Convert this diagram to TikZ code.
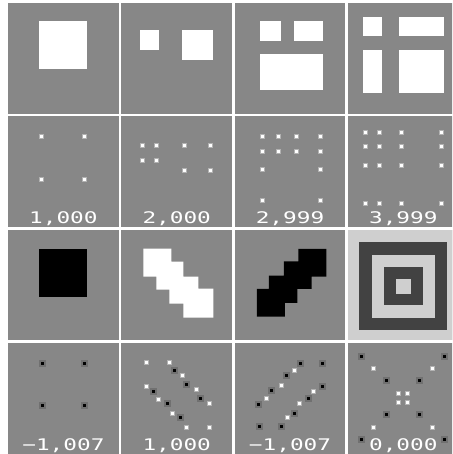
\documentclass[tikz,border=0pt]{standalone}
\usepackage{fontspec}
\newfontfamily\pixfont{DejaVu Sans Mono}
\definecolor{tilegray}{RGB}{135,135,135}
\definecolor{ringlight}{RGB}{207,207,207}
\definecolor{ringdark}{RGB}{66,66,66}
\definecolor{halodark}{RGB}{112,112,112}
\definecolor{halolight}{RGB}{178,178,178}
\tikzset{score/.style={text=white, font=\pixfont\fontsize{16}{16}\selectfont, anchor=base, inner sep=0pt}}
\newcommand{\wide}[1]{\scalebox{1.42}[1]{#1}}
% corner responses
\newcommand{\darkdots}[1]{\foreach \x/\y in {#1} {
    \fill[halodark] (\x-3.5,\y-3.5) rectangle (\x+3.5,\y+3.5);
    \fill[black] (\x-1.5,\y-1.5) rectangle (\x+1.5,\y+1.5);
  }}
\newcommand{\lightdots}[1]{\foreach \x/\y in {#1} {
    \fill[halolight] (\x-2.5,\y-2.5) rectangle (\x+2.5,\y+2.5);
    \fill[white] (\x-1.5,\y-1.5) rectangle (\x+1.5,\y+1.5);
  }}
\begin{document}
\begin{tikzpicture}[x=1pt, y=-1pt]
  \useasboundingbox (0,0) rectangle (452,454);
  \fill[white] (0,0) rectangle (452,454);
  \clip (0,0) rectangle (452,454);
  % Tiles
  \foreach \c in {0,...,3} {
    \foreach \r in {0,...,3} {
      \fill[tilegray] ({8+113.3*\c},{3+113.3*\r}) rectangle +(110.8,110.8);
    }
  }
  % Row 1 - white shapes
  \begin{scope}[shift={(8,3)}]
    \fill[white] (31,18) rectangle (79,66);
  \end{scope}
  \begin{scope}[shift={(121.3,3)}]
    \fill[white] (19,27) rectangle (38,47);
    \fill[white] (61,27) rectangle (92,57);
  \end{scope}
  \begin{scope}[shift={(234.6,3)}]
    \fill[white] (25,18) rectangle (46,38);
    \fill[white] (59,18) rectangle (88,38);
    \fill[white] (25,51) rectangle (88,87);
  \end{scope}
  \begin{scope}[shift={(347.9,3)}]
    \fill[white] (15,14) rectangle (34,33);
    \fill[white] (51,14) rectangle (96,33);
    \fill[white] (15,47) rectangle (34,90);
    \fill[white] (51,47) rectangle (96,90);
  \end{scope}
  % Row 2 - corners and counts
  \begin{scope}[shift={(8,116.3)}]
    \lightdots{33.5/20.5, 76.5/20.5, 33.5/63.5, 76.5/63.5}
    \node[score] (s21) at (55.4,107.5) {\wide{1,000}};
  \end{scope}
  \begin{scope}[shift={(121.3,116.3)}]
    \lightdots{21.5/29.5, 35.5/29.5, 21.5/44.5, 35.5/44.5,
      63.5/29.5, 89.5/29.5, 63.5/54.5, 89.5/54.5}
    \node[score] (s22) at (55.4,107.5) {\wide{2,000}};
  \end{scope}
  \begin{scope}[shift={(234.6,116.3)}]
    \lightdots{27.5/20.5, 43.5/20.5, 27.5/35.5, 43.5/35.5,
      61.5/20.5, 85.5/20.5, 61.5/35.5, 85.5/35.5,
      27.5/53.5, 85.5/53.5, 27.5/84.5, 85.5/84.5}
    \node[score] (s23) at (55.4,107.5) {\wide{2,999}};
  \end{scope}
  \begin{scope}[shift={(347.9,116.3)}]
    \lightdots{17.5/16.5, 31.5/16.5, 17.5/30.5, 31.5/30.5,
      53.5/16.5, 93.5/16.5, 53.5/30.5, 93.5/30.5,
      17.5/49.5, 31.5/49.5, 17.5/87.5, 31.5/87.5,
      53.5/49.5, 93.5/49.5, 53.5/87.5, 93.5/87.5}
    \node[score] (s24) at (55.4,107.5) {\wide{3,999}};
  \end{scope}
  % Row 3 - test shapes
  \begin{scope}[shift={(8,229.6)}]
    \fill[black] (31,19) rectangle (79,67);
  \end{scope}
  \begin{scope}[shift={(121.3,229.6)}]
    \fill[white] (22,19) -- (50,19) -- (50,32) -- (62,32) -- (62,47) -- (77,47)
      -- (77,59) -- (92,59) -- (92,88) -- (62,88) -- (62,74) -- (48,74)
      -- (48,60) -- (35,60) -- (35,47) -- (22,47) -- cycle;
  \end{scope}
  \begin{scope}[shift={(234.6,229.6)}]
    \fill[black] (63.7,19.3) -- (91.7,19.3) -- (91.7,47) -- (77,47) -- (77,59.3)
      -- (62.7,59.3) -- (62.7,73.3) -- (50.3,73.3) -- (50.3,87) -- (22.3,87)
      -- (22.3,59.3) -- (34.3,59.3) -- (34.3,46) -- (49.3,46) -- (49.3,31.7)
      -- (63.7,31.7) -- cycle;
  \end{scope}
  \begin{scope}[shift={(347.9,229.6)}]
    \fill[ringlight] (0,0) rectangle (110.8,110.8);
    \fill[ringdark] (11,12) rectangle (99,100);
    \fill[ringlight] (24,25) rectangle (87,88);
    \fill[ringdark] (36,37) rectangle (75,75);
    \fill[ringlight] (48,49) rectangle (63,64);
  \end{scope}
  % Row 4 - corners and counts
  \begin{scope}[shift={(8,342.9)}]
    \darkdots{34/20.5, 76/20.5, 34/63, 76/63}
    \node[score] (s41) at (55.4,107.5) {\wide{−1,007}};
  \end{scope}
  \begin{scope}[shift={(121.3,342.9)}]
    \lightdots{24.7/19.7, 47.7/19.7, 60.7/32.7, 74.7/47, 88.3/61,
      88.3/84.3, 64.7/84.3, 50.7/70.3, 36.7/56.3, 24.7/43.7}
    \darkdots{52.7/27.7, 64.7/42, 79.3/55.3, 45.7/61, 31.7/48.7, 59.3/74.7}
    \node[score] (s42) at (55.4,107.5) {\wide{1,000}};
  \end{scope}
  \begin{scope}[shift={(234.6,342.9)}]
    \darkdots{66/20.3, 88.3/20.3, 88.3/43.7, 74.3/56, 60.3/70.3,
      47/83.7, 25.3/83.7, 24.3/62, 37/47.7, 51.7/33}
    \lightdots{60.3/27.7, 46.7/42.7, 32/56, 79.3/48.7, 65.3/61, 52.7/74.7}
    \node[score] (s43) at (55.4,107.5) {\wide{−1,007}};
  \end{scope}
  \begin{scope}[shift={(347.9,342.9)}]
    \darkdots{13.7/13.7, 96.3/13.7, 38.7/38, 71.3/38,
      38.7/72, 71.3/72, 13.7/97, 96.3/97}
    \lightdots{25.3/26, 84.7/26, 50.3/50.3, 59.7/50.3,
      50.3/59.7, 59.7/59.7, 25.3/84.3, 84.7/84.3}
    \node[score] (s44) at (55.4,107.5) {\wide{0,000}};
  \end{scope}
\end{tikzpicture}
\end{document}
